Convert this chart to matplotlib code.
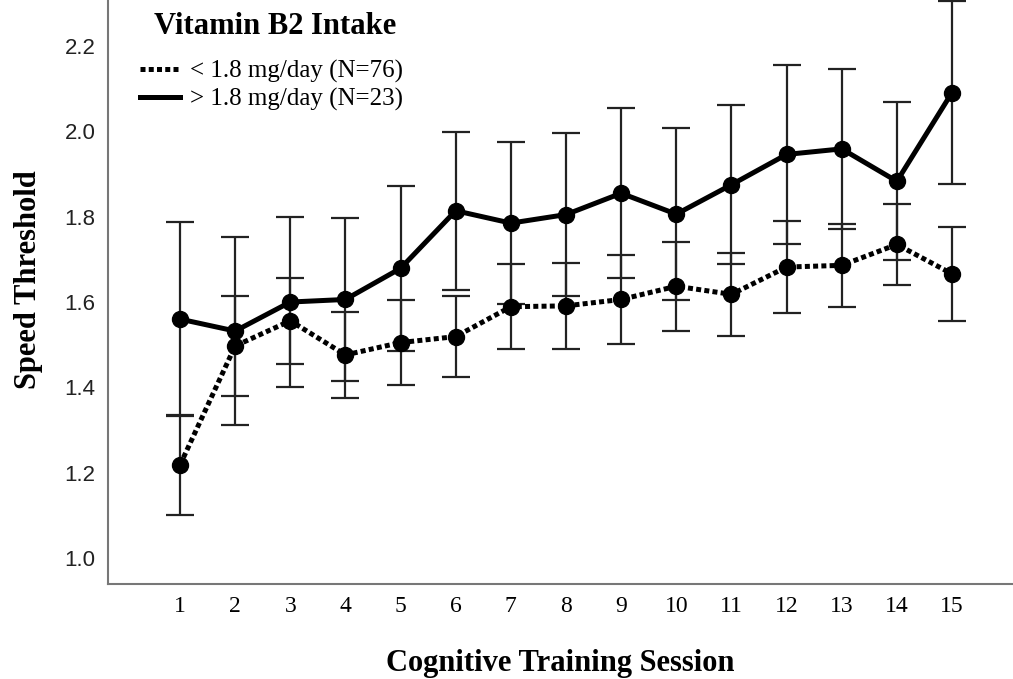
import numpy as np
import matplotlib
matplotlib.use('Agg')
import matplotlib.pyplot as plt

sessions = list(range(1, 16))

# > 1.8 mg/day (N=23)
high_mean = [1.560, 1.532, 1.600, 1.606, 1.679, 1.814, 1.785, 1.805, 1.855, 1.806,
             1.875, 1.946, 1.959, 1.883, 2.091]
high_err = [0.227, 0.220, 0.200, 0.190, 0.193, 0.185, 0.189, 0.192, 0.199, 0.201,
            0.187, 0.210, 0.187, 0.185, 0.214]

# < 1.8 mg/day (N=76)
low_mean = [1.218, 1.497, 1.556, 1.476, 1.505, 1.519, 1.589, 1.591, 1.606, 1.637,
            1.618, 1.682, 1.686, 1.735, 1.666]
low_err = [0.117, 0.117, 0.101, 0.100, 0.099, 0.095, 0.100, 0.100, 0.104, 0.104,
           0.097, 0.108, 0.097, 0.095, 0.111]

yticks = [1.0, 1.2, 1.4, 1.6, 1.8, 2.0, 2.2]

serif = 'Liberation Serif'
sans = 'Liberation Sans'
W, H = 1013, 679

fig = plt.figure(figsize=(W / 100, H / 100), dpi=100)
ax = fig.add_axes([108 / W, 95 / H, 1 - 108 / W, 1 - 95 / H])

for mean, err in [(low_mean, low_err), (high_mean, high_err)]:
    ax.errorbar(sessions, mean, yerr=err, fmt='none', ecolor='#222222',
                elinewidth=1.6, capsize=10, capthick=1.6, zorder=2)

ax.plot(sessions, low_mean, color='black', lw=3.6, linestyle=(0, (1, 0.65)),
        dash_capstyle='butt', label='< 1.8 mg/day (N=76)', zorder=3)
ax.plot(sessions, high_mean, color='black', lw=3.6, linestyle='-',
        label='> 1.8 mg/day (N=23)', zorder=3)
ax.plot(sessions, low_mean, 'o', color='black', ms=11.5, zorder=4)
ax.plot(sessions, high_mean, 'o', color='black', ms=11.5, zorder=4)

ax.set_xlim(-0.306, 16.106)
ax.set_ylim(0.939, 2.308)
ax.set_xticks(sessions)
ax.set_xticklabels([str(s) for s in sessions], family=serif, fontsize=17)
ax.set_yticks(yticks)
ax.set_yticklabels(['%.1f' % v for v in yticks], family=sans, fontsize=16, color='#222222')
ax.tick_params(axis='both', length=0)
ax.tick_params(axis='x', pad=9)
ax.tick_params(axis='y', pad=9)

for s in ['top', 'right']:
    ax.spines[s].set_visible(False)
for s in ['left', 'bottom']:
    ax.spines[s].set_color('#777777')
    ax.spines[s].set_linewidth(1.5)

ax.set_xlabel('Cognitive Training Session', family=serif, fontweight='bold',
              fontsize=22, labelpad=23)
ax.set_ylabel('Speed Threshold', family=serif, fontweight='bold', fontsize=22)
ax.yaxis.set_label_coords(-0.0715, 0.522)

# legend title drawn separately so its gap to the entries can be set
fig.text(275 / W, 1 - 26 / H, 'Vitamin B2 Intake', family=serif, fontweight='bold',
         fontsize=22, ha='center', va='center')
leg = ax.legend(loc='upper left', bbox_to_anchor=(140 / W, 1 - 60 / H),
                bbox_transform=fig.transFigure, frameon=False, borderpad=0,
                borderaxespad=0, handlelength=1.6, handletextpad=0.4,
                labelspacing=0.18, prop={'family': serif, 'size': 18})

plt.savefig('out.png', dpi=100)
